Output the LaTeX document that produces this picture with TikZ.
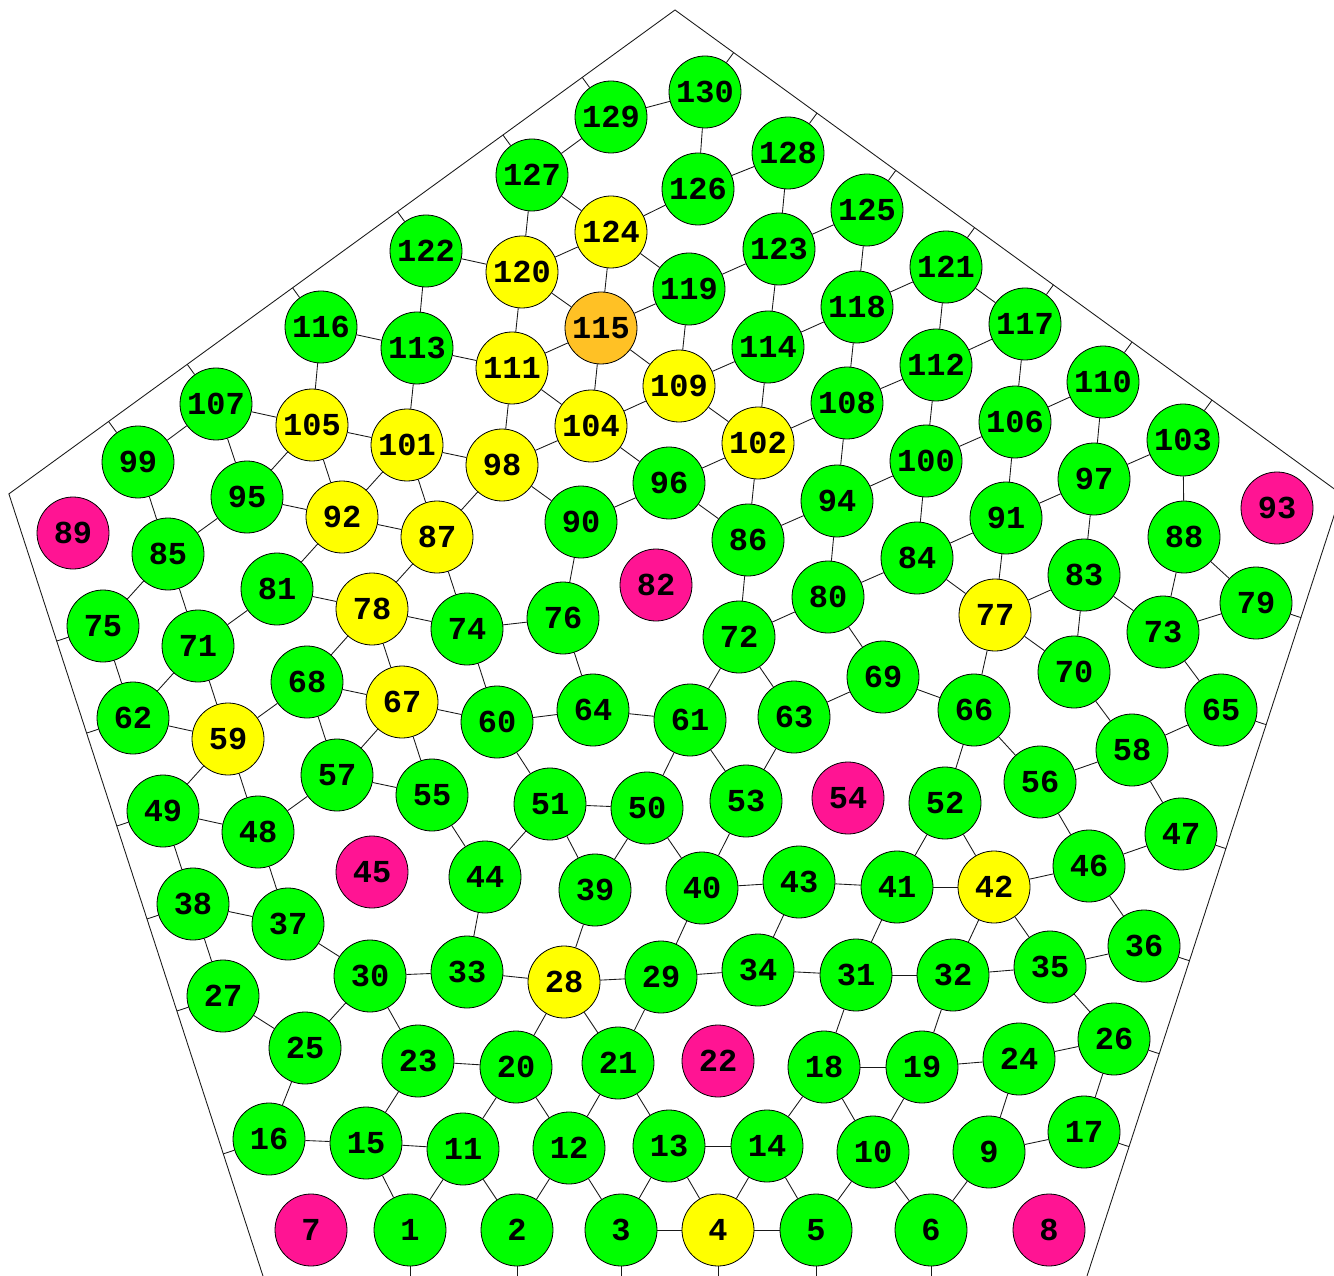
\documentclass[tikz,border=0pt]{standalone}
\usepackage{fontspec}
\newfontfamily\lblfont{Liberation Mono}
\usetikzlibrary{calc}
\definecolor{gn}{RGB}{0,255,0}
\definecolor{yl}{RGB}{255,255,0}
\definecolor{mg}{RGB}{255,20,147}
\definecolor{og}{RGB}{255,193,37}
\begin{document}
\begin{tikzpicture}[x=0.75pt,y=-0.75pt,
  vtx/.style={circle,draw=black,line width=0.6pt,minimum size=54pt,inner sep=0pt,
    font=\lblfont\bfseries\fontsize{24}{24}\selectfont},
  gnode/.style={vtx,fill=gn},
  ynode/.style={vtx,fill=yl},
  mnode/.style={vtx,fill=mg},
  onode/.style={vtx,fill=og},
  edge/.style={draw=black!90,line width=0.65pt},
  frame/.style={draw=black!90,line width=0.65pt}]
\useasboundingbox (0,0) rectangle (1334,1276);
\clip (0,0) rectangle (1334,1276);
% pentagon
\coordinate (A) at (675,10);
\coordinate (R) at (1341.1,493.9);
\coordinate (BR) at (1086.7,1277);
\coordinate (BL) at (263.3,1277);
\coordinate (L) at (8.9,493.9);
\draw[frame] (A) -- (R) -- (BR) -- (BL) -- (L) -- cycle;
% green nodes
\foreach \n/\x/\y in {1/410/1230,2/517/1230,3/621/1230,5/816/1230,6/931/1230,
 9/989/1152,10/873/1152,11/463/1149,12/569/1148,13/669/1146,14/767/1146,15/366/1143,16/269/1139,
 17/1084/1132,18/824/1067,19/922/1067,20/516/1067,21/618/1063,23/418/1061,24/1019/1059,25/305/1048,
 26/1114/1039,27/223/996,29/661/977,30/370/976,31/856/975,32/953/975,33/467/972,34/758/970,
 35/1050/967,36/1144/946,37/288/924,38/193/904,39/595/890,40/702/888,41/897/887,43/799/882,
 44/485/877,46/1089/866,47/1181/834,48/258/832,49/163/811,50/647/808,51/550/804,52/945/803,
 53/746/801,55/432/795,56/1040/782,57/337/775,58/1132/750,60/497/722,61/690/720,62/133/718,
 63/794/717,64/593/710,65/1221/710,66/974/710,68/307/682,69/883/677,70/1074/672,71/198/646,
 72/739/637,73/1163/632,74/467/629,75/103/626,76/563/618,79/1256/603,80/828/597,81/277/589,
 83/1084/575,84/917/558,85/168/554,86/748/540,88/1184/537,90/581/522,91/1006/518,94/837/501,
 95/247/497,96/669/483,97/1094/479,99/138/462,100/926/461,103/1183/440,106/1015/422,107/216/404,
 108/847/403,110/1103/382,112/936/365,113/417/348,114/768/347,116/321/327,117/1025/324,
 118/857/307,119/689/289,121/946/267,122/426/251,123/779/249,125/867/210,126/698/189,
 127/532/175,128/788/153,129/611/117,130/705/92}
  \node[gnode] (n\n) at (\x,\y) {\n};
% yellow nodes
\foreach \n/\x/\y in {4/718/1230,28/564/982,42/994/887,59/228/739,67/402/702,77/995/615,
 78/372/609,87/437/537,92/342/517,98/502/465,101/407/445,102/758/443,104/591/426,105/312/425,
 109/679/386,111/512/368,120/522/272,124/611/232}
  \node[ynode] (n\n) at (\x,\y) {\n};
% magenta nodes
\foreach \n/\x/\y in {7/311/1230,8/1049/1230,22/718/1061,45/372/872,54/848/798,82/656/585,
 89/73/533,93/1277/508}
  \node[mnode] (n\n) at (\x,\y) {\n};
% orange node
\node[onode] (n115) at (601,328) {115};
% edges
\foreach \a/\b in {1/15,1/11,2/11,2/12,3/12,3/13,3/4,4/13,4/14,4/5,5/14,5/10,6/10,6/9,
 9/24,9/17,10/18,10/19,11/15,11/20,12/20,12/21,13/14,13/21,14/18,15/16,15/23,16/25,17/26,
 18/19,18/31,19/24,19/32,20/23,20/28,21/28,21/29,23/30,24/26,25/27,25/30,26/35,27/38,
 28/29,28/33,28/39,29/34,29/40,30/33,30/37,31/34,31/32,31/41,32/35,32/42,33/44,34/43,
 35/36,35/42,36/46,37/38,37/48,38/49,39/51,39/50,40/50,40/53,40/43,41/43,41/42,41/52,
 42/46,42/52,44/51,44/55,46/47,46/56,47/58,48/49,48/59,48/57,49/59,50/51,50/61,51/60,
 52/66,53/61,53/63,55/57,55/67,56/58,56/66,57/67,57/68,58/65,58/70,59/62,59/71,59/68,
 60/67,60/64,60/74,61/64,61/72,62/71,62/75,63/72,63/69,64/76,65/73,66/69,66/77,67/68,
 67/78,68/78,69/80,70/77,70/83,71/85,71/81,72/80,72/86,73/83,73/79,73/88,74/78,74/87,
 74/76,75/85,76/90,77/84,77/91,77/83,78/81,78/87,79/88,80/84,80/94,81/92,83/97,84/100,
 84/91,85/99,85/95,86/94,86/96,86/102,87/92,87/101,87/98,88/103,90/98,90/96,91/97,
 91/106,92/95,92/101,92/105,94/100,94/108,95/105,95/107,96/104,96/102,97/103,97/110,
 98/101,98/104,98/111,99/107,100/106,100/112,101/105,101/113,102/109,102/114,102/108,
 104/111,104/115,104/109,105/107,105/116,106/110,106/117,108/112,108/118,109/115,
 109/119,109/114,111/113,111/115,111/120,112/117,112/121,113/116,113/122,114/118,
 114/123,115/120,115/124,115/119,117/121,118/121,118/125,119/123,119/124,120/122,
 120/124,120/127,123/125,123/128,124/126,124/127,126/128,126/130,127/129,129/130}
  \draw[edge] (n\a) -- (n\b);
% stubs to the frame
\foreach \n in {129,127,122,116,107,99} {
  \coordinate (s\n) at ($(A)!(n\n)!(L)$);
  \draw[edge] (n\n) -- (s\n);}
\foreach \n in {130,128,125,121,117,110,103} {
  \coordinate (s\n) at ($(A)!(n\n)!(R)$);
  \draw[edge] (n\n) -- (s\n);}
\foreach \n in {75,62,49,38,27,16} {
  \coordinate (s\n) at ($(L)!(n\n)!(BL)$);
  \draw[edge] (n\n) -- (s\n);}
\foreach \n in {79,65,47,36,26,17} {
  \coordinate (s\n) at ($(R)!(n\n)!(BR)$);
  \draw[edge] (n\n) -- (s\n);}
\foreach \n in {1,2,3,4,5,6} {
  \coordinate (s\n) at ($(BL)!(n\n)!(BR)$);
  \draw[edge] (n\n) -- (s\n);}
\end{tikzpicture}
\end{document}
